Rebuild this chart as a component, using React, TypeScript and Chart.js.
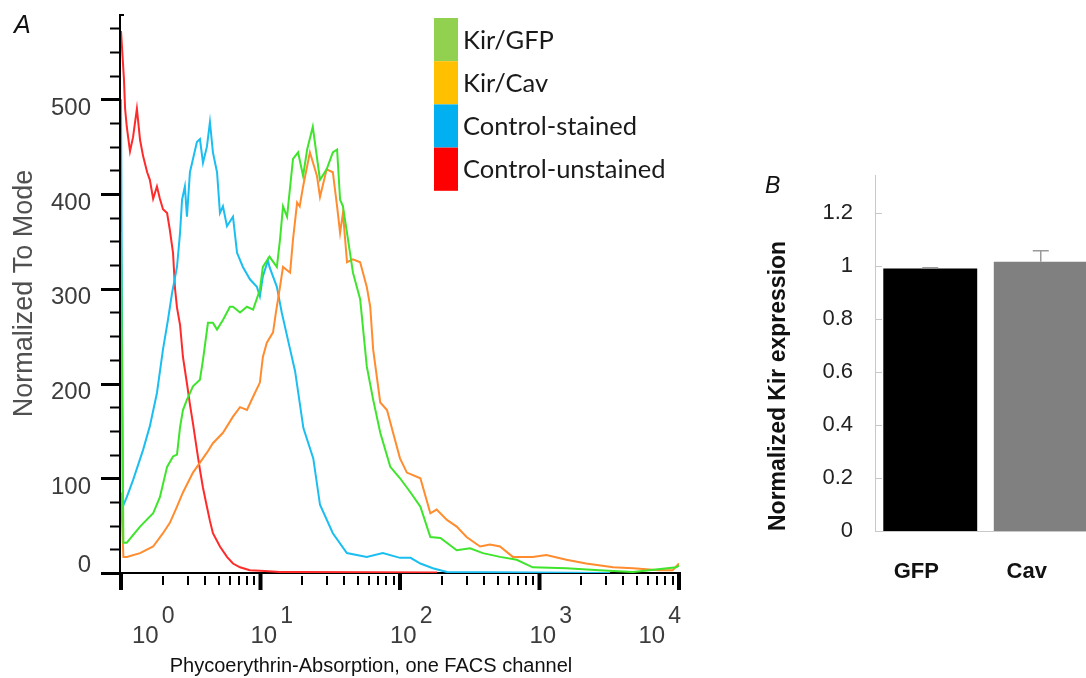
import React, { useEffect, useRef } from 'react';
import { Chart, registerables } from 'chart.js';

Chart.register(...registerables);

const FONT = '"Liberation Sans", Arial, sans-serif';

// ---------- Panel A: FACS histograms (x = channel value, y = normalized count) ----------
const kirGfp: [number, number][] = [
  [1, 360], [1.04, 32], [1.1, 32], [1.37, 49], [1.7, 63], [1.9, 80], [2.14, 112], [2.36, 123], [2.52, 125],
  [2.65, 154], [2.78, 172], [2.97, 183], [3.28, 197], [3.68, 204], [3.87, 225], [4.2, 264], [4.56, 264],
  [4.88, 257], [5.38, 267], [6.04, 281], [6.35, 281], [7.13, 275], [8.0, 281], [8.85, 278], [9.9, 299],
  [10.4, 323], [11.6, 334], [13.1, 323], [13.8, 352], [14.5, 387], [15.5, 376], [17.1, 437], [18.6, 444],
  [20.2, 419], [21.6, 447], [23.7, 471], [26.7, 415], [29.8, 426], [33, 444], [35.4, 447], [37.2, 394],
  [39, 387], [41.7, 359], [46, 317], [51.8, 289], [57.8, 218], [64.2, 183], [72.2, 148], [85.2, 112],
  [100, 100], [119, 85], [140, 70], [165, 38], [195, 37], [255, 24], [318, 26], [393, 21], [521, 17],
  [686, 14], [894, 6], [1560, 5], [2690, 3], [4680, 1], [9560, 6], [10000, 8],
];

const kirCav: [number, number][] = [
  [1, 85], [1.04, 17], [1.1, 17], [1.37, 21], [1.7, 28], [2.0, 42], [2.24, 53], [2.52, 70], [2.78, 85],
  [3.28, 106], [4.13, 127], [4.56, 137], [5.38, 148], [6.35, 165], [7.13, 175], [8.0, 172], [8.85, 186],
  [9.9, 201], [10.4, 228], [11.1, 243], [12.3, 254], [12.9, 275], [13.8, 302], [14.5, 323], [16.3, 317],
  [17.1, 352], [18.3, 391], [19.1, 387], [20.2, 408], [22.6, 444], [25.4, 419], [26.7, 397], [29.8, 426],
  [33, 423], [35.4, 387], [37.2, 359], [39, 380], [41.7, 328], [46, 331], [51.8, 328], [57.8, 302],
  [61.2, 281], [64.2, 236], [72.2, 180], [80.7, 172], [89.2, 148], [100, 121], [112, 106], [140, 100],
  [165, 63], [183, 67], [217, 56], [255, 49], [300, 38], [375, 28], [442, 30], [521, 28], [644, 17],
  [894, 17], [1120, 19], [1560, 14], [2160, 10], [3370, 6], [4680, 5], [7210, 3], [9000, 3], [10000, 10],
];

const controlStained: [number, number][] = [
  [1, 500], [1.03, 70], [1.1, 80], [1.22, 98], [1.44, 130], [1.61, 155], [1.81, 190], [2.0, 236],
  [2.17, 267], [2.32, 295], [2.52, 323], [2.65, 359], [2.74, 394], [2.87, 408], [2.97, 376], [3.12, 423],
  [3.5, 455], [3.68, 458], [3.87, 433], [4.13, 450], [4.34, 476], [4.56, 444], [4.88, 423], [5.12, 380],
  [5.38, 387], [5.75, 366], [6.35, 376], [6.79, 338], [7.48, 323], [8.4, 310], [9.42, 302], [9.9, 292],
  [10.4, 313], [11.3, 330], [11.6, 323], [13.1, 302], [14.2, 275], [16.3, 236], [17.7, 213], [20.3, 153],
  [23.9, 121], [26.7, 72], [33, 42], [41.6, 21], [57.8, 17], [75.3, 21], [100, 16], [119, 16], [140, 10],
  [172, 5], [217, 1], [3200, 0],
];

const controlUnstained: [number, number][] = [
  [1, 572], [1.05, 521], [1.07, 490], [1.1, 471], [1.16, 445], [1.22, 460], [1.3, 490], [1.37, 457],
  [1.44, 440], [1.54, 423], [1.61, 415], [1.7, 395], [1.81, 408], [1.9, 395], [2.0, 384], [2.14, 380],
  [2.24, 362], [2.36, 338], [2.44, 300], [2.52, 280], [2.65, 262], [2.78, 228], [2.97, 200], [3.12, 178],
  [3.28, 158], [3.5, 130], [3.68, 109], [3.87, 90], [4.13, 70], [4.34, 55], [4.56, 42], [5.12, 28],
  [5.75, 17], [6.35, 10], [7.13, 6], [8.4, 3], [10.7, 2], [13.8, 1], [19.1, 1], [184, 0.5],
];

const seriesLabels = ['Kir/GFP', 'Kir/Cav', 'Control-stained', 'Control-unstained'];
const lineColors = ['#3fe42c', '#ff8c2e', '#1bbef0', '#ff2a2a'];
const legendColors = ['#92d050', '#ffc000', '#00b0f0', '#ff0000'];
const yTicksA = [0, 100, 200, 300, 400, 500];
const yMinorStepA = 25;
const yMaxA = 590;
const xDecades = [1, 10, 100, 1000, 10000];
const xExponents = ['0', '1', '2', '3', '4'];
const xTitleA = 'Phycoerythrin-Absorption, one FACS channel';
const yTitleA = 'Normalized To Mode';

// ---------- Panel B: bar chart ----------
const bCategories = ['GFP', 'Cav'];
const bValues = [0.992, 1.017];
const bErrors = [0.003, 0.042];
const bColors = ['#000000', '#808080'];
const bYTicks = [0, 0.2, 0.4, 0.6, 0.8, 1, 1.2];
const bYMax = 1.345;
const yTitleB = 'Normalized Kir expression';

const pluginA = {
  id: 'panelA',
  beforeDatasetsDraw(chart: any) {
    const { ctx, chartArea, scales } = chart;
    const { left, right, top, bottom } = chartArea;
    const x = scales.x;
    const y = scales.y;
    ctx.save();
    ctx.strokeStyle = '#000';
    ctx.lineCap = 'butt';
    // axis lines
    ctx.lineWidth = 2;
    ctx.beginPath();
    ctx.moveTo(left - 1, top);
    ctx.lineTo(left - 1, bottom + 1);
    ctx.stroke();
    ctx.beginPath();
    ctx.moveTo(left - 1, top + 1);
    ctx.lineTo(left + 3, top + 1);
    ctx.stroke();
    ctx.beginPath();
    ctx.moveTo(left - 2, bottom);
    ctx.lineTo(right + 2, bottom);
    ctx.stroke();
    // y ticks
    for (let v = 0; v <= yMaxA; v += yMinorStepA) {
      const py = Math.round(y.getPixelForValue(v)) + 0.5;
      const major = yTicksA.includes(v);
      ctx.lineWidth = major ? 3 : 2;
      ctx.beginPath();
      ctx.moveTo(left - (major ? 20 : 11), py);
      ctx.lineTo(left - 1, py);
      ctx.stroke();
    }
    // x ticks
    xDecades.forEach((d, i) => {
      const px = x.getPixelForValue(d);
      ctx.lineWidth = 4;
      ctx.beginPath();
      ctx.moveTo(px, bottom);
      ctx.lineTo(px, bottom + 17);
      ctx.stroke();
      if (i < xDecades.length - 1) {
        for (let m = 2; m <= 9; m++) {
          const pm = Math.round(x.getPixelForValue(m * d));
          ctx.lineWidth = 2;
          ctx.beginPath();
          ctx.moveTo(pm, bottom + 3);
          ctx.lineTo(pm, bottom + 12);
          ctx.stroke();
        }
      }
    });
    ctx.restore();
  },
  afterDraw(chart: any) {
    const { ctx, chartArea, scales } = chart;
    const { left, bottom } = chartArea;
    const x = scales.x;
    const y = scales.y;
    ctx.save();
    // panel letter
    ctx.fillStyle = '#111';
    ctx.font = `italic 25px ${FONT}`;
    ctx.textAlign = 'left';
    ctx.textBaseline = 'alphabetic';
    ctx.fillText('A', 14, 33);
    // y tick labels
    ctx.font = `24px ${FONT}`;
    ctx.fillStyle = '#3c3c3c';
    ctx.textAlign = 'right';
    ctx.textBaseline = 'middle';
    yTicksA.forEach((v) => {
      const py = y.getPixelForValue(v) + (v === 0 ? -8 : 9);
      ctx.fillText(String(v), left - 30, py);
    });
    // x tick labels 10^n
    ctx.textAlign = 'left';
    ctx.textBaseline = 'alphabetic';
    xDecades.forEach((d, i) => {
      const px = x.getPixelForValue(d);
      ctx.font = `24px ${FONT}`;
      const wBase = ctx.measureText('10').width;
      ctx.font = `23px ${FONT}`;
      const wExp = ctx.measureText(xExponents[i]).width;
      const total = wBase + 3 + wExp;
      let sx = px - 10;
      sx = Math.max(sx, left + 11);
      sx = Math.min(sx, chartArea.right + 2 - total);
      ctx.font = `24px ${FONT}`;
      ctx.fillText('10', sx, bottom + 70);
      ctx.font = `23px ${FONT}`;
      ctx.fillText(xExponents[i], sx + wBase + 3, bottom + 50);
    });
    // x title
    ctx.font = `20px ${FONT}`;
    ctx.fillStyle = '#111';
    ctx.textAlign = 'center';
    ctx.fillText(xTitleA, 371, 672);
    // legend
    const boxH = 43.2;
    seriesLabels.forEach((lab, i) => {
      const by = 18 + i * boxH;
      ctx.fillStyle = legendColors[i];
      ctx.fillRect(434, by, 24, boxH);
      ctx.fillStyle = '#1a1a1a';
      ctx.font = `25.5px Lato, "Open Sans", sans-serif`;
      ctx.textAlign = 'left';
      ctx.textBaseline = 'middle';
      ctx.fillText(lab, 463, by + boxH / 2 + 1);
    });
    ctx.restore();
  },
};

const pluginB = {
  id: 'panelB',
  afterDatasetsDraw(chart: any) {
    const { ctx, chartArea, scales } = chart;
    const y = scales.y;
    const meta = chart.getDatasetMeta(0);
    ctx.save();
    // inward tick marks
    ctx.strokeStyle = '#c8c8c8';
    ctx.lineWidth = 1;
    bYTicks.forEach((v) => {
      const py = Math.round(y.getPixelForValue(v)) + 0.5;
      ctx.beginPath();
      ctx.moveTo(chartArea.left, py);
      ctx.lineTo(chartArea.left + 7, py);
      ctx.stroke();
    });
    // error bars
    ctx.strokeStyle = '#9a9a9a';
    ctx.lineWidth = 1.5;
    meta.data.forEach((bar: any, i: number) => {
      const yv = y.getPixelForValue(bValues[i]);
      const ye = y.getPixelForValue(bValues[i] + bErrors[i]);
      ctx.beginPath();
      ctx.moveTo(bar.x, yv);
      ctx.lineTo(bar.x, ye);
      ctx.moveTo(bar.x - 8, ye);
      ctx.lineTo(bar.x + 8, ye);
      ctx.stroke();
    });
    // panel letter
    ctx.fillStyle = '#111';
    ctx.font = `italic 23px ${FONT}`;
    ctx.textAlign = 'left';
    ctx.textBaseline = 'alphabetic';
    ctx.fillText('B', 25, 193);
    ctx.restore();
  },
};

function PanelA() {
  const ref = useRef<HTMLCanvasElement | null>(null);
  useEffect(() => {
    if (!ref.current) return;
    const series = [kirGfp, kirCav, controlStained, controlUnstained];
    const chart = new Chart(ref.current, {
      type: 'line',
      data: {
        datasets: series.map((s, i) => ({
          label: seriesLabels[i],
          data: s.map(([vx, vy]) => ({ x: vx, y: vy })),
          borderColor: lineColors[i],
          backgroundColor: lineColors[i],
          borderWidth: 2,
          pointRadius: 0,
          tension: 0,
          fill: false,
        })),
      },
      options: {
        responsive: false,
        animation: false,
        layout: { padding: { left: 0, top: 14, right: 61, bottom: 0 } },
        scales: {
          x: {
            type: 'logarithmic',
            min: 1,
            max: 10000,
            ticks: { display: false },
            grid: { display: false, drawTicks: false },
            border: { display: false },
            afterFit: (s: any) => {
              s.height = 105;
            },
          },
          y: {
            type: 'linear',
            min: 0,
            max: yMaxA,
            ticks: { display: false },
            grid: { display: false, drawTicks: false },
            border: { display: false },
            title: {
              display: true,
              text: yTitleA,
              color: '#505050',
              font: { family: FONT, size: 27, weight: 'normal' },
              padding: { top: 8, bottom: 0 },
            },
            afterFit: (s: any) => {
              s.width = 121;
            },
          },
        },
        plugins: { legend: { display: false }, tooltip: { enabled: false } },
      } as any,
      plugins: [pluginA],
    });
    return () => chart.destroy();
  }, []);
  return (
    <canvas
      ref={ref}
      width={740}
      height={678}
      style={{ position: 'absolute', left: 0, top: 0, width: 740, height: 678, display: 'block' }}
    />
  );
}

function PanelB() {
  const ref = useRef<HTMLCanvasElement | null>(null);
  useEffect(() => {
    if (!ref.current) return;
    const chart = new Chart(ref.current, {
      type: 'bar',
      data: {
        labels: bCategories,
        datasets: [
          {
            data: bValues,
            backgroundColor: bColors,
            borderWidth: 0,
            barPercentage: 0.85,
            categoryPercentage: 1,
          },
        ],
      },
      options: {
        responsive: false,
        animation: false,
        layout: { padding: { left: 0, top: 175, right: 4, bottom: 0 } },
        scales: {
          x: {
            ticks: {
              font: { family: FONT, size: 22, weight: 'bold' },
              color: '#111',
              padding: 28,
              labelOffset: -14,
            },
            grid: { display: false, drawTicks: false },
            border: { display: true, color: '#c8c8c8', width: 1 },
            afterFit: (s: any) => {
              s.height = 147;
            },
          },
          y: {
            min: 0,
            max: bYMax,
            afterBuildTicks: (s: any) => {
              s.ticks = bYTicks.map((v) => ({ value: v }));
            },
            ticks: {
              font: { family: FONT, size: 22 },
              color: '#222',
              padding: 22,
              callback: (v: any) => String(v),
            },
            grid: { display: false, drawTicks: false },
            border: { display: true, color: '#c8c8c8', width: 1 },
            title: {
              display: true,
              text: yTitleB,
              align: 'start',
              color: '#111',
              font: { family: FONT, size: 23, weight: 'bold' },
              padding: { top: 25, bottom: 0 },
            },
            afterFit: (s: any) => {
              s.width = 135;
            },
          },
        },
        plugins: { legend: { display: false }, tooltip: { enabled: false } },
      } as any,
      plugins: [pluginB],
    });
    return () => chart.destroy();
  }, []);
  return (
    <canvas
      ref={ref}
      width={360}
      height={678}
      style={{ position: 'absolute', left: 0, top: 0, width: 360, height: 678, display: 'block' }}
    />
  );
}

export default function App() {
  return (
    <div
      style={{
        position: 'fixed',
        left: 0,
        top: 0,
        width: 1086,
        height: 678,
        background: '#fff',
        overflow: 'hidden',
      }}
    >
      <PanelA />
      <div style={{ position: 'absolute', left: 740, top: 0, width: 346, height: 678, overflow: 'hidden' }}>
        <PanelB />
      </div>
    </div>
  );
}
